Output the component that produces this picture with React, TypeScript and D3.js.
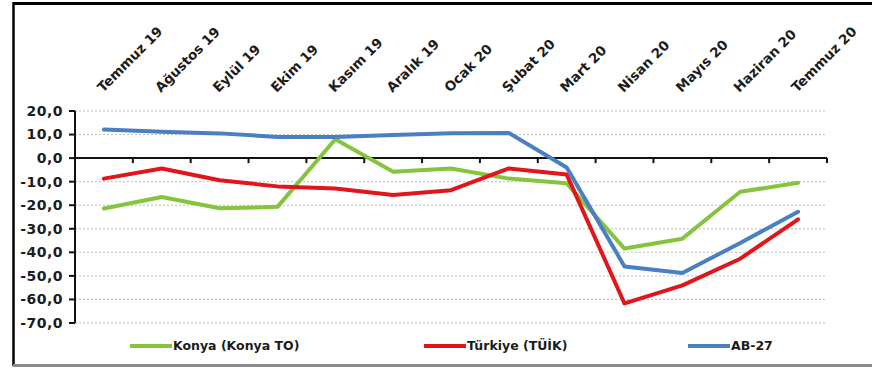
import React from "react";
import * as d3 from "d3";

const categories = [
  "Temmuz 19", "Ağustos 19", "Eylül 19", "Ekim 19", "Kasım 19", "Aralık 19",
  "Ocak 20", "Şubat 20", "Mart 20", "Nisan 20", "Mayıs 20", "Haziran 20", "Temmuz 20",
];
const konya = [-21.4, -16.5, -21.3, -20.7, 8.0, -5.8, -4.4, -8.7, -10.7, -38.4, -34.2, -14.3, -10.5];
const turkiye = [-8.7, -4.4, -9.4, -12.0, -12.9, -15.7, -13.6, -4.4, -7.0, -61.7, -54.0, -42.7, -26.0];
const ab27 = [12.1, 11.2, 10.5, 9.0, 9.0, 9.8, 10.6, 10.7, -4.0, -46.0, -48.8, -36.0, -22.8];
const yTicks = [20, 10, 0, -10, -20, -30, -40, -50, -60, -70];
const seriesNames = ["Konya (Konya TO)", "Türkiye (TÜİK)", "AB-27"];

const W = 872;
const H = 368;
const colors = ["#86c440", "#e0161b", "#4a7fc0"];
const FONT = "'DejaVu Sans', Verdana, sans-serif";

export default function App() {
  const x = d3.scaleBand<string>().domain(categories).range([75, 827]).padding(0);
  const y = d3.scaleLinear().domain([-70, 20]).range([323, 111]);
  const cx = (c: string) => (x(c) as number) + x.bandwidth() / 2;
  const fmt = (v: number) => d3.format(".1f")(v).replace(".", ",").replace("−", "-");
  const series = [konya, turkiye, ab27];
  const line = d3
    .line<number>()
    .x((_, i) => cx(categories[i]))
    .y((d) => y(d));
  const legendX = [130, 424, 688];
  const legendY = 346;
  const y0 = y(0);
  const boundaries = categories.map((c) => x(c) as number).concat([827]);

  return (
    <div style={{ position: "absolute", left: 0, top: 0 }}>
      <svg width={W} height={H} style={{ display: "block", background: "#fff" }}>
        {/* frame */}
        <line x1={13} x2={W} y1={3.5} y2={3.5} stroke="#000" strokeWidth={3} />
        <line x1={13.5} x2={13.5} y1={2} y2={366} stroke="#000" strokeWidth={2.5} />
        <line x1={13} x2={W} y1={365.5} y2={365.5} stroke="#8a8a8a" strokeWidth={3} />

        {/* gridlines */}
        {yTicks
          .filter((t) => t !== 0)
          .map((t) => (
            <line
              key={"g" + t}
              x1={75}
              x2={827}
              y1={y(t)}
              y2={y(t)}
              stroke="#bdbdbd"
              strokeWidth={1}
              strokeDasharray="2 2"
            />
          ))}

        {/* y axis */}
        <line x1={75} x2={75} y1={y(20)} y2={y(-70)} stroke="#111" strokeWidth={2} />
        {yTicks.map((t) => (
          <g key={"t" + t}>
            <line x1={69} x2={75} y1={y(t)} y2={y(t)} stroke="#111" strokeWidth={2} />
            <text
              x={63}
              y={y(t)}
              dy="0.35em"
              textAnchor="end"
              fontFamily={FONT}
              fontWeight="bold"
              fontSize={14}
              letterSpacing={0.5}
              fill="#1c1c1c"
            >
              {fmt(t)}
            </text>
          </g>
        ))}

        {/* x axis at zero */}
        <line x1={75} x2={827} y1={y0} y2={y0} stroke="#111" strokeWidth={2} />
        {boundaries.map((b, i) => (
          <line key={"b" + i} x1={b} x2={b} y1={y0} y2={y0 + 5} stroke="#111" strokeWidth={2} />
        ))}

        {/* category labels */}
        {categories.map((c) => (
          <text
            key={c}
            transform={`translate(${cx(c) - 1},${93}) rotate(-45)`}
            fontFamily={FONT}
            fontWeight="bold"
            fontSize={13.5}
            fill="#1c1c1c"
          >
            {c}
          </text>
        ))}

        {/* lines */}
        {series.map((s, i) => (
          <path
            key={"s" + i}
            d={line(s) || ""}
            fill="none"
            stroke={colors[i]}
            strokeWidth={4}
            strokeLinejoin="round"
            strokeLinecap="round"
          />
        ))}

        {/* legend */}
        {seriesNames.map((n, i) => (
          <g key={n}>
            <line
              x1={legendX[i]}
              x2={legendX[i] + 42}
              y1={legendY}
              y2={legendY}
              stroke={colors[i]}
              strokeWidth={4}
            />
            <text
              x={legendX[i] + 43}
              y={legendY}
              dy="0.35em"
              fontFamily={FONT}
              fontWeight="bold"
              fontSize={12.5}
              fill="#1c1c1c"
            >
              {n}
            </text>
          </g>
        ))}
      </svg>
    </div>
  );
}
